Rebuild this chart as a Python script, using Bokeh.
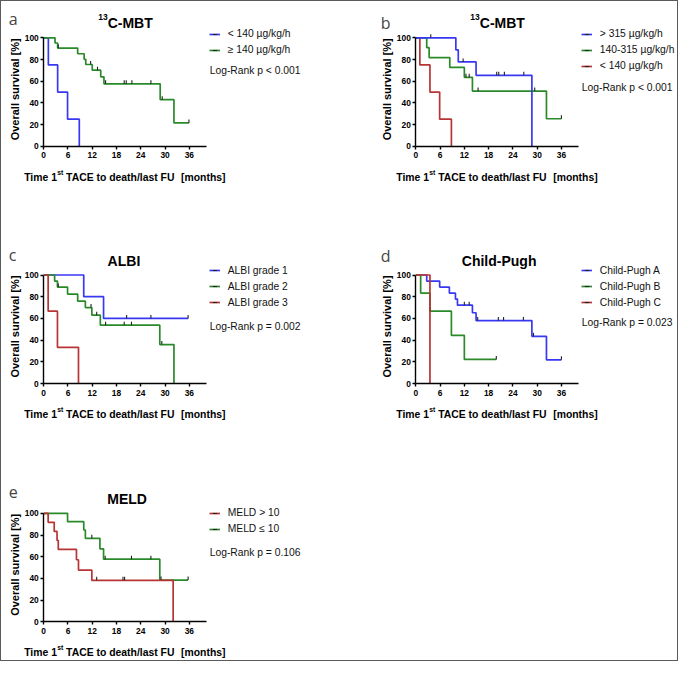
import math
import numpy as np
from bokeh.plotting import figure
from bokeh.models import (Range1d, FixedTicker, Label, Legend, LegendItem,
                          ColumnDataSource, Spacer)
from bokeh.layouts import column, row
from bokeh.embed import file_html
from bokeh.resources import INLINE

X_TICKS = [0, 6, 12, 18, 24, 30, 36]
Y_TICKS = [0, 20, 40, 60, 80, 100]

# ---------------- data (months, % survival) ----------------
# panel a : 13C-MBT (2 groups)
a_lo_t = [0, 1.15, 3.45, 5.9, 8.8]
a_lo_s = [100, 75, 50, 25, 0]
a_lo_c = []
a_hi_t = [0, 2.8, 3.45, 8.4, 10.0, 10.4, 12.0, 14.1, 14.9, 28.8, 32.2, 35.9]
a_hi_s = [100, 95.2, 90.5, 85.3, 80.2, 75.4, 70.2, 64.0, 57.6, 43.0, 21.5, 21.5]
a_hi_c = [3.6, 11.6, 13.3, 15.3, 19.9, 20.4, 21.8, 26.5, 29.3, 35.9]

# panel b : 13C-MBT (3 groups)
b_hi_t = [0, 9.9, 10.5, 14.9, 28.7]
b_hi_s = [100, 88.9, 77.8, 65.4, 0]
b_hi_c = [3.7, 11.7, 20.0, 20.5, 21.9, 26.7]
b_mid_t = [0, 2.7, 3.3, 8.4, 12.0, 14.0, 32.3, 36.0]
b_mid_s = [100, 90.9, 81.8, 72.7, 63.6, 50.9, 25.4, 25.4]
b_mid_c = [12.4, 13.2, 15.4, 29.4, 36.0]
b_lo_t = [0, 1.0, 3.5, 5.9, 8.8]
b_lo_s = [100, 75, 50, 25, 0]
b_lo_c = []

# panel c : ALBI
c1_t = [0, 9.9, 14.8, 35.7]
c1_s = [100, 80, 60, 60]
c1_c = [20.5, 26.5, 35.7]
c2_t = [0, 2.7, 3.4, 5.9, 8.4, 10.3, 11.9, 14.0, 28.7, 32.2]
c2_s = [100, 94.4, 88.9, 82.4, 75.9, 70.0, 63.0, 53.8, 35.9, 0]
c2_c = [3.6, 11.7, 13.1, 15.3, 19.9, 21.7, 29.2]
c3_t = [0, 1.1, 3.4, 8.6]
c3_s = [100, 66.7, 33.3, 0]
c3_c = []

# panel d : Child-Pugh
dA_t = [0, 2.7, 5.9, 8.3, 9.8, 10.3, 14.0, 14.9, 28.7, 32.3, 36.0]
dA_s = [100, 94.4, 88.9, 83.3, 77.8, 72.2, 65.2, 58.0, 43.5, 21.8, 21.8]
dA_c = [12.0, 13.2, 15.3, 20.4, 21.7, 26.6, 29.1, 36.0]
dB_t = [0, 1.2, 3.5, 8.8, 12.0, 19.9]
dB_s = [100, 83.3, 66.7, 44.4, 22.2, 22.2]
dB_c = [3.6, 19.9]
dC_t = [0, 3.5]
dC_s = [100, 0]
dC_c = []

# panel e : MELD
eHi_t = [0, 1.1, 2.6, 3.3, 3.6, 8.1, 8.6, 11.9, 32.0]
eHi_s = [100, 91.7, 83.3, 75.0, 66.7, 57.2, 47.7, 38.2, 0]
eHi_c = [13.1, 19.6, 20.0]
eLo_t = [0, 5.9, 9.9, 10.3, 13.9, 14.8, 28.7, 35.7]
eLo_s = [100, 92.3, 84.6, 76.9, 67.3, 57.7, 38.5, 38.5]
eLo_c = [11.9, 15.2, 21.7, 26.5, 29.0, 35.7]

BLUE = "#3838f4"
GREEN = "#2a8a2a"
RED = "#b83434"
FONT = "Liberation Sans"

# Arial/Liberation Sans Bold advance widths (per 1000 em)
BOLD_W = {'T': 611, 'i': 278, 'm': 889, 'e': 556, ' ': 278, '1': 556, 's': 556,
          't': 333, 'C': 722, '-': 333, 'M': 833, 'B': 722, '3': 556,
          'A': 722, 'E': 667, 'o': 611, 'd': 611, 'a': 556, 'h': 611,
          '/': 278, 'l': 278, 'F': 611, 'U': 722, '[': 333, ']': 333,
          'n': 611}


def text_w(s, size):
    return sum(BOLD_W.get(ch, 556) for ch in s) * size / 1000.0


KX = 4.045   # px per month
KY = 1.085   # px per percent


def lab(p, x, y, text, size, bold=False, font=FONT, color="black",
        baseline="alphabetic", align="left", angle=0.0):
    p.add_layout(Label(x=x, y=y, x_units="screen", y_units="screen", text=text,
                       text_font=font, text_font_size=f"{size}px",
                       text_font_style="bold" if bold else "normal",
                       text_color=color, text_baseline=baseline,
                       text_align=align, angle=angle))


def km_panel(W, H, ox, oy, letter, letter_y, title, groups, legend_c,
             logrank, logrank_y, draw_order):
    p = figure(width=W, height=H, min_border=0, min_border_left=0,
               min_border_right=0, min_border_top=0, min_border_bottom=0,
               x_range=Range1d(-ox / KX, (W - ox) / KX),
               y_range=Range1d(-oy / KY, (H - oy) / KY),
               output_backend="svg", toolbar_location=None)
    p.title.visible = False
    p.xgrid.visible = False
    p.ygrid.visible = False
    p.outline_line_color = None
    for ax in (p.xaxis[0], p.yaxis[0]):
        ax.fixed_location = 0
        ax.axis_line_color = "black"
        ax.axis_line_width = 1.4
        ax.major_tick_line_color = "black"
        ax.major_tick_line_width = 1.4
        ax.major_tick_out = 3
        ax.major_tick_in = 0
        ax.minor_tick_out = 0
        ax.minor_tick_in = 0
        ax.major_label_text_font = FONT
        ax.major_label_text_font_style = "bold"
        ax.major_label_text_font_size = "8.4px"
        ax.major_label_text_color = "black"
    p.xaxis.ticker = FixedTicker(ticks=X_TICKS)
    p.yaxis.ticker = FixedTicker(ticks=Y_TICKS)
    p.xaxis.bounds = (0, 40.3)
    p.yaxis.bounds = (0, 100)
    p.xaxis.major_label_standoff = 3
    p.yaxis.major_label_standoff = 2

    rends = {}
    for idx in draw_order:
        glab, col, t, s, c = groups[idx]
        t = np.asarray(t, float)
        s = np.asarray(s, float)
        lr = p.step(x=t, y=s, mode="after", line_color=col, line_width=1.7)
        c = np.asarray(c, float)
        cy = s[np.searchsorted(t, c, side="right") - 1] if len(c) else np.array([])
        p.ray(x=c, y=cy, length=3.5, length_units="screen", angle=math.pi / 2,
              line_color="#222222", line_width=1.1)
        # legend-only tick symbol (NaN position: nothing drawn in the plot)
        tick = p.scatter(x=[np.nan], y=[np.nan], marker="dash", angle=math.pi / 2,
                         size=5, line_color="#222222", line_width=1.1)
        rends[idx] = (lr, tick)

    items = [LegendItem(label=groups[i][0], renderers=list(rends[i]))
             for i in range(len(groups))]
    n = len(groups)
    top = oy + legend_c + 8
    leg = Legend(items=items, location=(ox + 165.5, top - 16 * n), padding=0,
                 margin=0, spacing=0, glyph_width=11, glyph_height=16,
                 label_height=16, label_standoff=8, label_text_font=FONT,
                 label_text_font_size="10.3px", label_text_color="#111111",
                 border_line_color=None, background_fill_alpha=0)
    p.add_layout(leg)

    # panel letter
    lab(p, ox - 35, oy + letter_y, letter, 16, font="Open Sans", color="#444444")
    # title (list of (text, size, raise))
    total = sum(text_w(tx, sz) for tx, sz, _ in title)
    x0 = ox + 81.8 - total / 2
    for tx, sz, rs in title:
        lab(p, x0, oy + 122.9 + rs, tx, sz, bold=True)
        x0 += text_w(tx, sz)
    # x axis label with superscript ("Time 1st TACE to death/last FU  [months]")
    xl = ox - 19.5
    pieces = [("Time 1", 10.4, -31, 0), ("st", 6.8, -26, 0),
              ("TACE to death/last FU", 10.4, -31, 1),
              ("[months]", 10.4, -31, 2)]
    for tx, sz, yb, nsp in pieces:
        xl += nsp * text_w(" ", 10.4)
        lab(p, xl, oy + yb, tx, sz, bold=True)
        xl += text_w(tx, sz)
    # y axis label
    lab(p, ox - 29, oy + 57, "Overall survival [%]", 11, bold=True,
        baseline="middle", align="center", angle=math.pi / 2)
    # log-rank
    lab(p, ox + 166, oy + logrank_y, logrank, 10.3, color="#111111",
        baseline="middle")
    return p


MBT = [("13", 8.5, 6), ("C-MBT", 14, 0)]
LW, RW = 339, 337
H1, H2, H3 = 200, 230, 229
OXL, OXR = 42.2, 75.3
OY1, OY2, OY3 = 55.2, 48.0, 38.7

pa = km_panel(LW, H1, OXL, OY1, "a", 127.0, MBT,
              [("< 140 µg/kg/h", BLUE, a_lo_t, a_lo_s, a_lo_c),
               ("≥ 140 µg/kg/h", GREEN, a_hi_t, a_hi_s, a_hi_c)],
              112.3, "Log-Rank p < 0.001", 75.6, [0, 1])
pb = km_panel(RW, H1, OXR, OY1, "b", 123.6, MBT,
              [("> 315 µg/kg/h", BLUE, b_hi_t, b_hi_s, b_hi_c),
               ("140-315 µg/kg/h", GREEN, b_mid_t, b_mid_s, b_mid_c),
               ("< 140 µg/kg/h", RED, b_lo_t, b_lo_s, b_lo_c)],
              112.0, "Log-Rank p < 0.001", 59.3, [2, 1, 0])
pc = km_panel(LW, H2, OXL, OY2, "c", 129.0, [("ALBI", 14, 0)],
              [("ALBI grade 1", BLUE, c1_t, c1_s, c1_c),
               ("ALBI grade 2", GREEN, c2_t, c2_s, c2_c),
               ("ALBI grade 3", RED, c3_t, c3_s, c3_c)],
              113.0, "Log-Rank p = 0.002", 56.7, [0, 1, 2])
pd_ = km_panel(RW, H2, OXR, OY2, "d", 127.3, [("Child-Pugh", 14, 0)],
               [("Child-Pugh A", BLUE, dA_t, dA_s, dA_c),
                ("Child-Pugh B", GREEN, dB_t, dB_s, dB_c),
                ("Child-Pugh C", RED, dC_t, dC_s, dC_c)],
               113.0, "Log-Rank p = 0.023", 60.7, [0, 1, 2])
pe = km_panel(LW, H3, OXL, OY3, "e", 129.6, [("MELD", 14, 0)],
              [("MELD > 10", RED, eHi_t, eHi_s, eHi_c),
               ("MELD ≤ 10", GREEN, eLo_t, eLo_s, eLo_c)],
              108.6, "Log-Rank p = 0.106", 69.3, [1, 0])

layout = column(row(pa, pb), row(pc, pd_),
                row(pe, Spacer(width=RW, height=H3)),
                styles={"border": "1px solid #5a5a5a"})

open("out.html", "w").write(file_html(layout, INLINE))
